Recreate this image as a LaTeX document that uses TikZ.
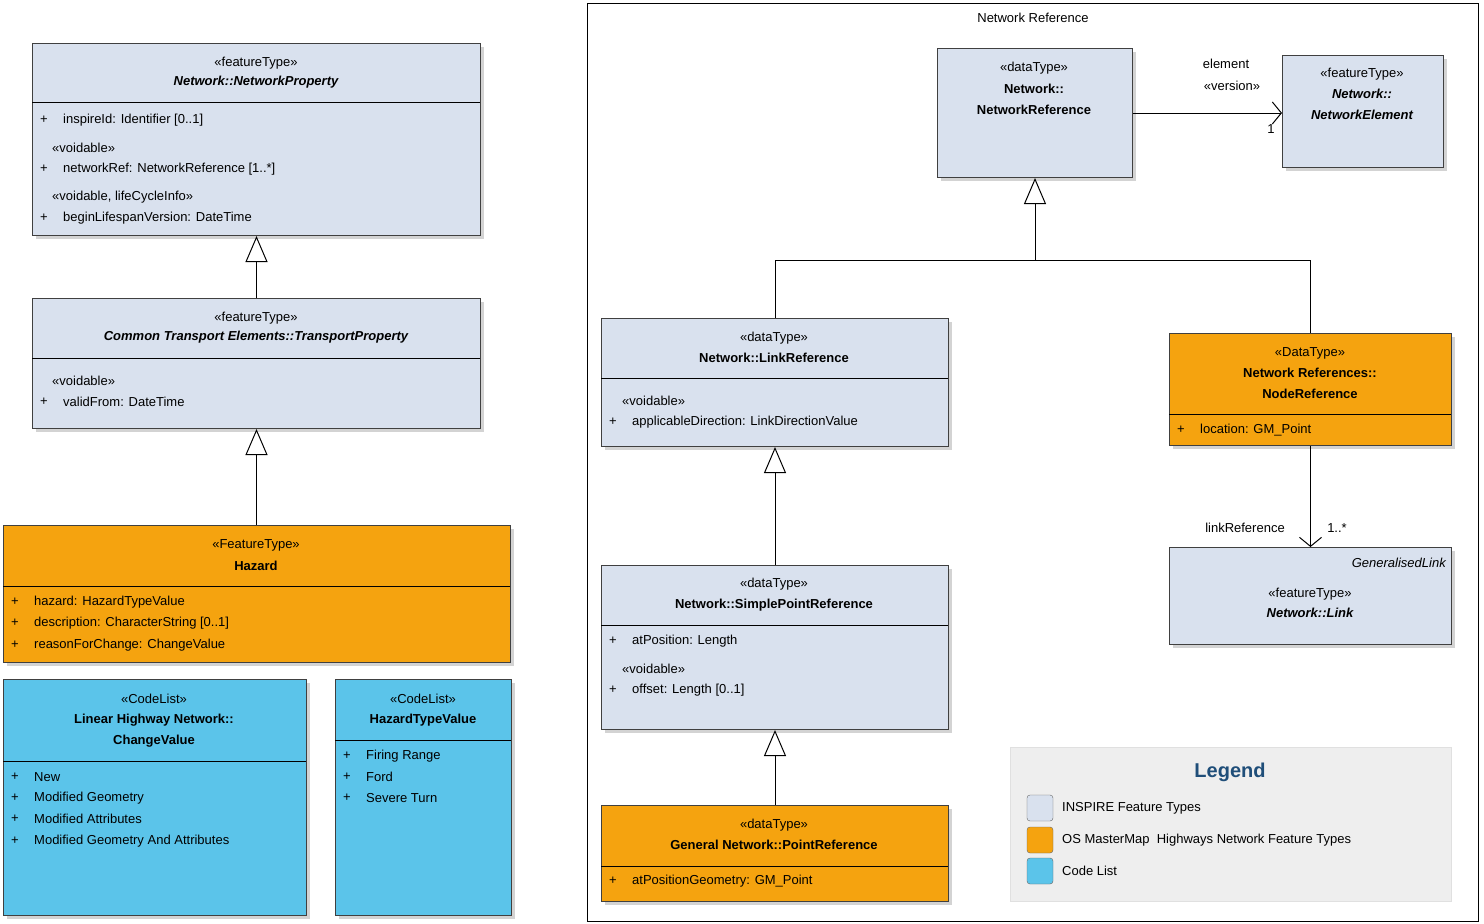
\documentclass[tikz,border=0pt]{standalone}
\usepackage{fontspec}
\setmainfont{Liberation Sans}
\usetikzlibrary{arrows.meta,shadows}
\definecolor{inspire}{HTML}{D9E1EE}
\definecolor{osmm}{HTML}{F5A30F}
\definecolor{codelist}{HTML}{5BC4EA}
\definecolor{legendbg}{HTML}{EEEEEE}
\definecolor{legendtxt}{HTML}{1F4E79}
\newcommand{\attr}[3]{\node[txt,anchor=west] at (#1,#2) {+}; \node[txt,anchor=west] at (#1+23,#2) {#3};}
\tikzset{
  box/.style={draw=black!75,line width=1pt,anchor=north west,inner sep=0pt,
    drop shadow={opacity=0.35,shadow xshift=3pt,shadow yshift=-3pt}},
  txt/.style={inner sep=0pt,font=\fontsize{13}{15}\selectfont},
  gen/.style={-{Triangle[open,length=26pt,width=22pt,fill=white]},line width=1pt},
  assoc/.style={-{Straight Barb[length=9pt,width=22pt]},line width=1pt},
}
\begin{document}
\begin{tikzpicture}[x=1pt,y=-1pt]
\useasboundingbox (0,0) rectangle (1484,924);
% left column
\node[box,fill=inspire,minimum width=448,minimum height=192] (np) at (32,43) {};
\draw (32,102) -- (480,102);
\node[txt] at (256,63) {«featureType»};
\node[txt,font=\fontsize{13}{15}\selectfont\bfseries\itshape] at (256,82) {Network::NetworkProperty};
\attr{40}{120}{inspireId: Identifier [0..1]}
\node[txt,anchor=west] at (52,148) {«voidable»};
\attr{40}{169}{networkRef: NetworkReference [1..*]}
\node[txt,anchor=west] at (52,197) {«voidable, lifeCycleInfo»};
\attr{40}{218}{beginLifespanVersion: DateTime}

\node[box,fill=inspire,minimum width=448,minimum height=130] (tp) at (32,298) {};
\draw (32,358) -- (480,358);
\node[txt] at (256,318) {«featureType»};
\node[txt,font=\fontsize{13}{15}\selectfont\bfseries\itshape] at (256,337) {Common Transport Elements::TransportProperty};
\node[txt,anchor=west] at (52,381) {«voidable»};
\attr{40}{402}{validFrom: DateTime}

\node[box,fill=osmm,minimum width=507,minimum height=137] (hz) at (3,525) {};
\draw (3,586) -- (510,586);
\node[txt] at (256,545) {«FeatureType»};
\node[txt,font=\fontsize{13}{15}\selectfont\bfseries] at (256,566) {Hazard};
\attr{11}{602}{hazard: HazardTypeValue}
\attr{11}{623}{description: CharacterString [0..1]}
\attr{11}{645}{reasonForChange: ChangeValue}

\node[box,fill=codelist,minimum width=303,minimum height=236] (cv) at (3,679) {};
\draw (3,761) -- (306,761);
\node[txt] at (154,699) {«CodeList»};
\node[txt,font=\fontsize{13}{15}\selectfont\bfseries] at (154,720) {Linear Highway Network::};
\node[txt,font=\fontsize{13}{15}\selectfont\bfseries] at (154,741) {ChangeValue};
\attr{11}{777}{New}
\attr{11}{798}{Modified Geometry}
\attr{11}{819}{Modified Attributes}
\attr{11}{841}{Modified Geometry And Attributes}

\node[box,fill=codelist,minimum width=176,minimum height=236] (htv) at (335,679) {};
\draw (335,740) -- (511,740);
\node[txt] at (423,699) {«CodeList»};
\node[txt,font=\fontsize{13}{15}\selectfont\bfseries] at (423,720) {HazardTypeValue};
\attr{343}{756}{Firing Range}
\attr{343}{777}{Ford}
\attr{343}{798}{Severe Turn}

\draw[gen] (tp.north) -- (np.south);
\draw[gen] (hz.north -| tp.north) -- (tp.south);

% network reference package
\draw[line width=1pt] (587,3) rectangle (1478,921);
\node[txt] (pkg) at (1033,18) {Network Reference};

\node[box,fill=inspire,minimum width=195,minimum height=129] (nr) at (937,48) {};
\node[txt] at (1034,68) {«dataType»};
\node[txt,font=\fontsize{13}{15}\selectfont\bfseries] at (1034,89) {Network::};
\node[txt,font=\fontsize{13}{15}\selectfont\bfseries] at (1034,110) {NetworkReference};

\node[box,fill=inspire,minimum width=161,minimum height=112] (ne) at (1282,55) {};
\node[txt] at (1362,74) {«featureType»};
\node[txt,font=\fontsize{13}{15}\selectfont\bfseries\itshape] at (1362,94) {Network::};
\node[txt,font=\fontsize{13}{15}\selectfont\bfseries\itshape] at (1362,115) {NetworkElement};

\node[box,fill=inspire,minimum width=347,minimum height=128] (lr) at (601,318) {};
\draw (601,378) -- (948,378);
\node[txt] at (774,338) {«dataType»};
\node[txt,font=\fontsize{13}{15}\selectfont\bfseries] at (774,358) {Network::LinkReference};
\node[txt,anchor=west] at (622,401) {«voidable»};
\attr{609}{422}{applicableDirection: LinkDirectionValue}

\node[box,fill=osmm,minimum width=282,minimum height=112] (nd) at (1169,333) {};
\draw (1169,414) -- (1451,414);
\node[txt] at (1310,353) {«DataType»};
\node[txt,font=\fontsize{13}{15}\selectfont\bfseries] at (1310,373) {Network References::};
\node[txt,font=\fontsize{13}{15}\selectfont\bfseries] at (1310,394) {NodeReference};
\attr{1177}{430}{location: GM\_Point}

\node[box,fill=inspire,minimum width=282,minimum height=97] (gl) at (1169,547) {};
\node[txt,anchor=east,font=\fontsize{13}{15}\selectfont\itshape] at (1446,563) {GeneralisedLink};
\node[txt] at (1310,594) {«featureType»};
\node[txt,font=\fontsize{13}{15}\selectfont\bfseries\itshape] at (1310,613) {Network::Link};

\node[box,fill=inspire,minimum width=347,minimum height=164] (spr) at (601,565) {};
\draw (601,625) -- (948,625);
\node[txt] at (774,584) {«dataType»};
\node[txt,font=\fontsize{13}{15}\selectfont\bfseries] at (774,605) {Network::SimplePointReference};
\attr{609}{641}{atPosition: Length}
\node[txt,anchor=west] at (622,669) {«voidable»};
\attr{609}{690}{offset: Length [0..1]}

\node[box,fill=osmm,minimum width=347,minimum height=96] (pr) at (601,805) {};
\draw (601,866) -- (948,866);
\node[txt] at (774,825) {«dataType»};
\node[txt,font=\fontsize{13}{15}\selectfont\bfseries] at (774,845) {General Network::PointReference};
\attr{609}{881}{atPositionGeometry: GM\_Point}

% connectors
\coordinate (split) at (1035,260);
\draw[gen] (lr.north) |- (split) -- (nr.south);
\draw[line width=1pt] (nd.north) |- (split);
\draw[gen] (spr.north) -- (lr.south);
\draw[gen] (pr.north) -- (spr.south);
\draw[assoc] (nr.east) -- (nr.east -| ne.west);
\node[txt] at (1226,64) {element};
\node[txt] at (1232,86) {«version»};
\node[txt] at (1271,129) {1};
\draw[assoc] (nd.south) -- (gl.north);
\node[txt] at (1245,528) {linkReference};
\node[txt] at (1337,528) {1..*};

% legend
\node[anchor=north west,fill=legendbg,draw=black!12,line width=1pt,minimum width=441,minimum height=154] (lg) at (1010,747) {};
\node[txt,font=\fontsize{20}{24}\selectfont\bfseries,text=legendtxt] at (1230,772) {Legend};
\foreach \y/\c/\t in {808/inspire/INSPIRE Feature Types,840/osmm/OS MasterMap\ \ Highways Network Feature Types,871/codelist/Code List}{
  \draw[fill=\c,draw=black!60,rounded corners=3pt] (1027,\y-13) rectangle (1053,\y+13);
  \node[txt,anchor=west] at (1062,\y) {\t};
}
\end{tikzpicture}
\end{document}
